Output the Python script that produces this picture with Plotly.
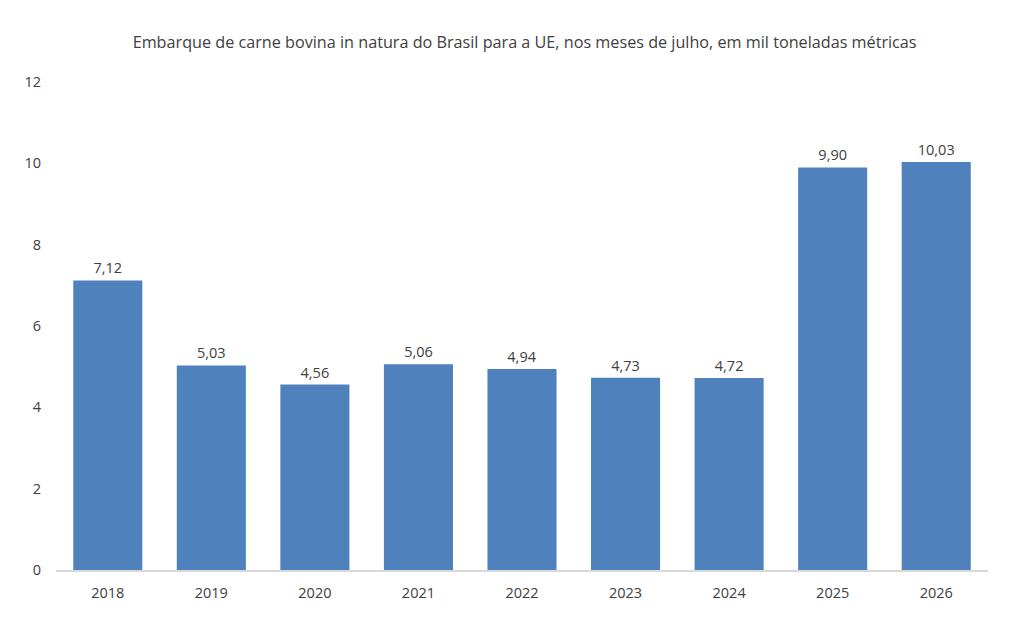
import plotly.graph_objects as go

years = ["2018", "2019", "2020", "2021", "2022", "2023", "2024", "2025", "2026"]
values = [7.12, 5.03, 4.56, 5.06, 4.94, 4.73, 4.72, 9.90, 10.03]
labels = [f"{v:.2f}".replace(".", ",") for v in values]
title = "Embarque de carne bovina in natura do Brasil para a UE, nos meses de julho, em mil toneladas métricas"

FONT = "Open Sans"
GREY = "#404040"

fig = go.Figure(go.Bar(
    x=years, y=values, text=labels, textposition="outside",
    textfont=dict(family=FONT, size=14.5, color=GREY),
    marker=dict(color="#4F81BD", line=dict(width=0)),
    cliponaxis=False,
))

fig.update_layout(
    width=1011, height=629,
    margin=dict(l=48, r=31, t=74, b=67),
    paper_bgcolor="white", plot_bgcolor="white",
    bargap=0.333,
    showlegend=False,
    title=dict(text=title, x=0.511, xanchor="center", y=0.946, yanchor="middle",
               font=dict(family=FONT, size=16.2, color=GREY)),
    xaxis=dict(showgrid=False, showline=True, linecolor="#D9D9D9", linewidth=1.5,
               ticks="", ticklabelstandoff=9,
               tickfont=dict(family=FONT, size=14.5, color=GREY)),
    yaxis=dict(range=[0, 12], dtick=2, showgrid=False, zeroline=False, showline=False,
               ticks="", ticklabelstandoff=14,
               tickfont=dict(family=FONT, size=14.5, color=GREY)),
)

fig.write_html("out.html")
